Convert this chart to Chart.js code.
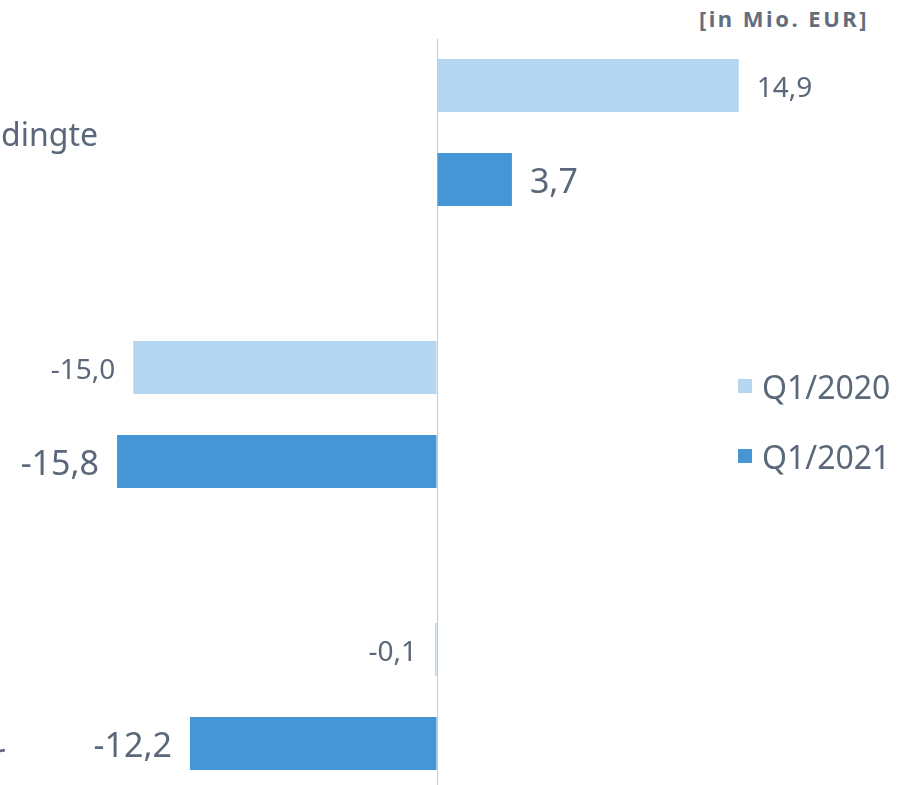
<!DOCTYPE html>
<html><head><meta charset="utf-8">
<script src="https://cdn.jsdelivr.net/npm/chart.js@4.4.1/dist/chart.umd.min.js"></script>
<style>
html,body{margin:0;padding:0;background:#fff;overflow:hidden;width:903px;height:785px;position:relative;font-family:"Noto Sans",sans-serif;}
#chart{position:absolute;left:-587px;top:0;}
#unit{position:absolute;right:34px;top:3px;font-size:22px;font-weight:bold;letter-spacing:2.5px;color:#626e7e;line-height:30px;}
#legend{position:absolute;left:738px;top:351px;}
.li{display:flex;align-items:center;height:70px;font-size:32px;color:#5b6879;}
.sw{width:14px;height:14px;margin-right:10px;}
</style></head>
<body>
<div id="unit"></div>
<canvas id="chart" width="1490" height="785"></canvas>
<div id="legend"></div>
<script>
// ---- data ----
const categories = [
  "Währungs- und stichtagsbedingte",
  ["Cashflow aus", "Investitions-", "tätigkeit"],
  ["Cashflow aus", "Finanzierungs-", "tätigkeit und", "gezahlte Ertragsteuer"]
];
const seriesNames = ["Q1/2020", "Q1/2021"];
const q1_2020 = [14.9, -15.0, -0.1];
const q1_2021 = [3.7, -15.8, -12.2];
const unitLabel = "[in Mio. EUR]";

// ---- styles ----
const textColor = "#5b6879";
const colors = ["#b4d6f1", "#4696d6"];
const labelSizes = [28, 34];
const fontFamily = '"Noto Sans", sans-serif';

document.getElementById('unit').textContent = unitLabel;

const toPoints = arr => arr.map((v, i) => ({ x: v, y: i }));

const valueLabels = {
  id: 'valueLabels',
  afterDatasetsDraw(chart) {
    const ctx = chart.ctx;
    chart.data.datasets.forEach((ds, di) => {
      const meta = chart.getDatasetMeta(di);
      meta.data.forEach((bar, i) => {
        const v = ds.data[i].x;
        const txt = v.toFixed(1).replace('.', ',');
        ctx.save();
        ctx.font = labelSizes[di] + 'px ' + fontFamily;
        ctx.fillStyle = textColor;
        ctx.textBaseline = 'middle';
        ctx.textAlign = v >= 0 ? 'left' : 'right';
        ctx.fillText(txt, bar.x + (v >= 0 ? 18 : -18), bar.y + 4);
        ctx.restore();
      });
    });
  }
};

const htmlLegend = {
  id: 'htmlLegend',
  afterUpdate(chart) {
    const el = document.getElementById('legend');
    el.innerHTML = '';
    chart.data.datasets.forEach(ds => {
      const row = document.createElement('div');
      row.className = 'li';
      const sw = document.createElement('span');
      sw.className = 'sw';
      sw.style.background = ds.backgroundColor;
      const t = document.createElement('span');
      t.textContent = ds.label;
      row.appendChild(sw); row.appendChild(t);
      el.appendChild(row);
    });
  }
};

new Chart(document.getElementById('chart'), {
  type: 'bar',
  data: {
    datasets: [
      { label: seriesNames[0], data: toPoints(q1_2020), backgroundColor: colors[0] },
      { label: seriesNames[1], data: toPoints(q1_2021), backgroundColor: colors[1] }
    ]
  },
  options: {
    indexAxis: 'y',
    responsive: false,
    animation: false,
    devicePixelRatio: 1,
    categoryPercentage: 0.6667,
    barPercentage: 0.5638,
    layout: { padding: { top: 39, right: 142, left: 0, bottom: 0 } },
    plugins: { legend: { display: false }, tooltip: { enabled: false } },
    scales: {
      x: {
        type: 'linear',
        min: -16, max: 16,
        ticks: { display: false, stepSize: 4 },
        border: { display: false },
        grid: {
          drawTicks: false,
          lineWidth: 1,
          color: c => (c.tick && Math.abs(c.tick.value) < 1e-9) ? '#c8c8c8' : 'rgba(0,0,0,0)'
        }
      },
      y: {
        type: 'linear',
        reverse: true,
        offset: false,
        bounds: 'data',
        min: -0.33156, max: 2.31383,
        border: { display: false },
        grid: { display: false, drawTicks: false, offset: false },
        afterBuildTicks: s => { s.ticks = categories.map((_, i) => ({ value: i })); },
        afterFit: s => { s.width = 700; s.paddingTop = 0; s.paddingBottom = 0; },
        ticks: {
          crossAlign: 'center',
          padding: 15,
          labelOffset: 4,
          color: textColor,
          font: { family: fontFamily, size: 32, lineHeight: 1.2 },
          callback: v => categories[v] !== undefined ? categories[v] : ''
        }
      }
    }
  },
  plugins: [valueLabels, htmlLegend]
});
</script>
</body></html>
